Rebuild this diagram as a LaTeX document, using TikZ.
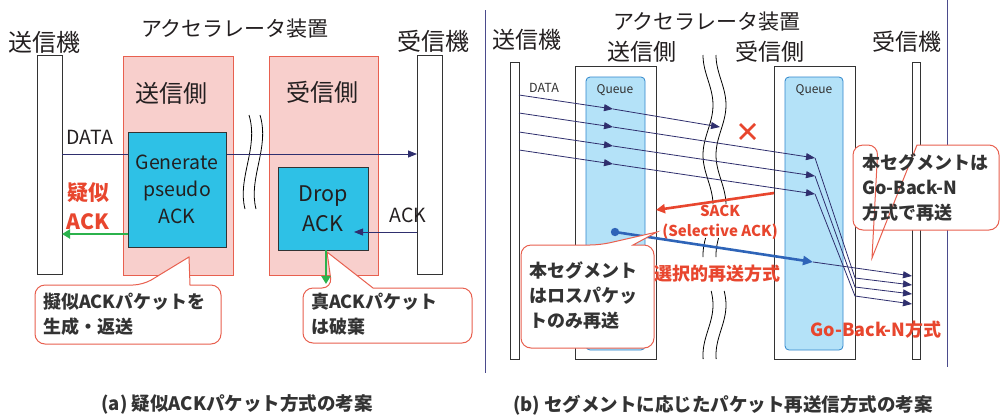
\documentclass[tikz,border=0pt]{standalone}
\usepackage{fontspec}
\setmainfont{Noto Sans CJK JP}
\usetikzlibrary{arrows.meta}
\definecolor{pinkf}{HTML}{F8CFCC}
\definecolor{pinkd}{HTML}{E8604F}
\definecolor{cyanf}{HTML}{2EC1E6}
\definecolor{navy}{HTML}{2F2F6E}
\definecolor{grn}{HTML}{2BB24C}
\definecolor{redt}{HTML}{E8462E}
\definecolor{qfill}{HTML}{B4E2F8}
\definecolor{qdraw}{HTML}{2F86CC}
\definecolor{bluea}{HTML}{2E64B8}
\definecolor{sepc}{HTML}{4B4B8C}
\definecolor{txt}{HTML}{231F20}
\definecolor{ctxt}{HTML}{333333}
\newcommand{\fs}[2]{\fontsize{#1}{#2}\selectfont}
\newcommand{\callshape}[8]{%
  \draw[callout] (#1,{(#2+#4)/2}) [rounded corners=10pt] -- (#1,#2) -- (#5,#2) [sharp corners] -- (#7,#8) -- (#6,#2) [rounded corners=10pt] -- (#3,#2) -- (#3,#4) -- (#1,#4) -- cycle;}
\begin{document}
\begin{tikzpicture}[x=1pt,y=-1pt,
  every node/.style={inner sep=0pt, outer sep=0pt, text=txt},
  bar/.style={draw=black!80, fill=white, line width=0.8pt},
  pinkbox/.style={draw=pinkd, fill=pinkf, line width=1pt},
  cyanbox/.style={draw=black!80, fill=cyanf, line width=1pt, align=center},
  qbox/.style={draw=qdraw, fill=qfill, rounded corners=4pt, line width=0.8pt},
  navyarrow/.style={draw=navy, line width=0.8pt, -{Triangle[length=9pt,width=7pt]}},
  grnarrow/.style={draw=grn, line width=2.6pt, -{Triangle[length=8pt,width=9pt]}},
  redarrow/.style={draw=redt, line width=2.6pt, -{Triangle[length=9pt,width=9pt]}},
  bluearrow/.style={draw=bluea, line width=2.6pt, -{Triangle[length=10pt,width=9pt]}},
  callout/.style={draw=pinkd, fill=white, line width=1pt},
  calltext/.style={font=\bfseries\fs{18}{25}, text=ctxt, align=left},
  redlabel/.style={font=\bfseries\fs{18}{22}, text=redt, align=center},
  wave/.style={draw=black, line width=0.8pt},
  big/.style={font=\fs{24}{28}},
  title/.style={font=\fs{21}{25}},
  caption/.style={font=\bfseries\fs{18.5}{22}, text=ctxt}]
\useasboundingbox (0,0) rectangle (1001,416);
\fill[white] (0,0) rectangle (1001,416);

% ---------------- panel (a) ----------------
\node[big] (txA) at (45,42) {送信機};
\node[title] (accA) at (235,29) {アクセラレータ装置};
\node[big] (rxA) at (433,41) {受信機};
\node[bar, minimum width=25pt, minimum height=219pt] (sbA) at (49.5,164.5) {};
\node[bar, minimum width=25pt, minimum height=219pt] (rbA) at (429.5,164.5) {};
\node[pinkbox, minimum width=110pt, minimum height=219pt] (pkL) at (178,165.5) {};
\node[pinkbox, minimum width=109pt, minimum height=219pt] (pkR) at (323.5,165.5) {};
\node[big] (sideS) at (171,93) {送信側};
\node[big] (sideR) at (322,92) {受信側};
\draw[wave] (249,115) .. controls (259,148) and (237,178) .. (245,209);
\draw[wave] (260,115) .. controls (270,148) and (248,178) .. (256,209);
\draw[navyarrow] (sbA.east |- 0,154) -- (rbA.west |- 0,154);
\node[cyanbox, minimum width=98pt, minimum height=115pt, font=\fs{19.5}{27}] (gen) at (177,189.5) {Generate\\pseudo\\ACK};
\node[cyanbox, minimum width=90pt, minimum height=83pt, font=\fs{21.5}{30}] (drop) at (323,208.5) {Drop\\ACK};
\coordinate (ackend) at (354,232);
\draw[navyarrow] (rbA.west |- 0,232) -- (ackend);
\node[font=\fs{19.5}{23}] (dataA) at (90,137) {DATA};
\node[font=\fs{19.5}{23}] (ackA) at (408,215) {ACK};
\node[font=\bfseries\fs{21}{29}, text=redt, align=center] (pseudo) at (88,206) {疑似\\ACK};
\draw[grnarrow] (gen.west |- 0,234) -- (sbA.east |- 0,234);
\callshape{35}{285}{221}{344}{143}{190}{189}{257}
\node[calltext, anchor=west] (c1) at (43,314.5) {擬似ACKパケットを\\生成・返送};
\callshape{303}{288}{472}{343}{332}{373}{327}{252}
\node[calltext, anchor=west] (c2) at (311,314.5) {真ACKパケット\\は破棄};
\draw[grnarrow] ([xshift=3pt]drop.south) -- ++(0,34);
\node[caption] (capA) at (237,404) {(a) 疑似ACKパケット方式の考案};
\draw[sepc, line width=0.8pt] (485,10) -- (485,373);

% ---------------- panel (b) ----------------
\draw[sepc, line width=0.8pt] (947,0) -- (947,367);
\node[font=\fs{23}{27}] (txB) at (527,40) {送信機};
\node[title] (accB) at (707,22) {アクセラレータ装置};
\node[font=\fs{23}{27}] (sideSB) at (642,52) {送信側};
\node[font=\fs{23}{27}] (sideRB) at (770,52) {受信側};
\node[font=\fs{23}{27}] (rxB) at (907,42) {受信機};
\node[bar, minimum width=9pt, minimum height=297pt] (sbB) at (514.5,210.5) {};
\node[bar, minimum width=8pt, minimum height=297pt] (rbB) at (916,210.5) {};
\node[bar, minimum width=81pt, minimum height=293pt] (sxB) at (615.5,212.5) {};
\node[bar, minimum width=81pt, minimum height=293pt] (rxBox) at (814.5,212.5) {};
\node[qbox, minimum width=59pt, minimum height=273pt] (q1) at (615.5,213.5) {};
\node[qbox, minimum width=58pt, minimum height=273pt] (q2) at (814,213.5) {};
\node[font=\fs{12}{14}, text=ctxt] (q1l) at (615,90) {Queue};
\node[font=\fs{12}{14}, text=ctxt] (q2l) at (814,90) {Queue};
\node[font=\fs{12.5}{15}, text=ctxt] (dataB) at (544,88) {DATA};
% wavy cut lines
\foreach \dx in {0,13} {
  \draw[wave] plot[domain=55:204, samples=50, smooth] ({708+\dx-5*cos(3.6*(\x-55))}, \x);
  \draw[wave] plot[domain=238:257, samples=10, smooth] ({708+\dx-5*cos(3.6*(\x-55))}, \x);
  \draw[wave] plot[domain=291:359, samples=30, smooth] ({708+\dx-5*cos(3.6*(\x-55))}, \x);
}
% data packets
\coordinate (m1) at (613,109); \coordinate (e1) at (720,127);
\coordinate (m2) at (613,127); \coordinate (e2) at (815,158);
\coordinate (m3) at (613,146); \coordinate (e3) at (815,176);
\coordinate (m4) at (613,164); \coordinate (e4) at (815,194);
\draw[navyarrow] (sbB.east |- 0,95) -- (m1);
\draw[navyarrow] (m1) -- (e1);
\draw[navyarrow] (sbB.east |- 0,113) -- (m2);
\draw[navyarrow] (m2) -- (e2);
\draw[navyarrow] (sbB.east |- 0,132) -- (m3);
\draw[navyarrow] (m3) -- (e3);
\draw[navyarrow] (sbB.east |- 0,150) -- (m4);
\draw[navyarrow] (m4) -- (e4);
\draw[navyarrow] (e2) -- (855,278) -- (rbB.west |- 0,285);
\draw[navyarrow] (e3) -- (855,287) -- (rbB.west |- 0,294);
\draw[navyarrow] (e4) -- (855,296) -- (rbB.west |- 0,304);
% lost packet mark
\draw[redt, line width=2.8pt] (740,124) -- (755,139) (740,139) -- (755,124);
% SACK
\draw[redarrow] (rxBox.west |- 0,193) -- (sxB.east |- 0,210);
\node[font=\bfseries\fs{15}{20}, text=redt, align=center] (sack) at (720,222) {SACK\\(Selective ACK)};
% selective retransmission
\coordinate (dot) at (615,232);
\coordinate (bt) at (813,262);
\draw[bluearrow] (dot) -- (bt);
\fill[bluea] (dot) circle (4.2pt);
\draw[navyarrow] (bt) -- (rbB.west |- 0,276);
\node[redlabel] (selB) at (717,274) {選択的再送方式};
\node[redlabel] (gbn) at (876,330) {Go-Back-N方式};
% callouts
\callshape{853}{145}{999}{230}{878}{917}{872}{258}
\node[calltext, anchor=west] (c3) at (862,188) {本セグメントは\\Go-Back-N\\方式で再送};
\callshape{521}{245}{654}{348}{600}{633}{657}{232}
\node[calltext, anchor=west] (c4) at (529,295) {本セグメント\\はロスパケッ\\トのみ再送};
\node[caption] (capB) at (723,405) {(b) セグメントに応じたパケット再送信方式の考案};
\end{tikzpicture}
\end{document}
